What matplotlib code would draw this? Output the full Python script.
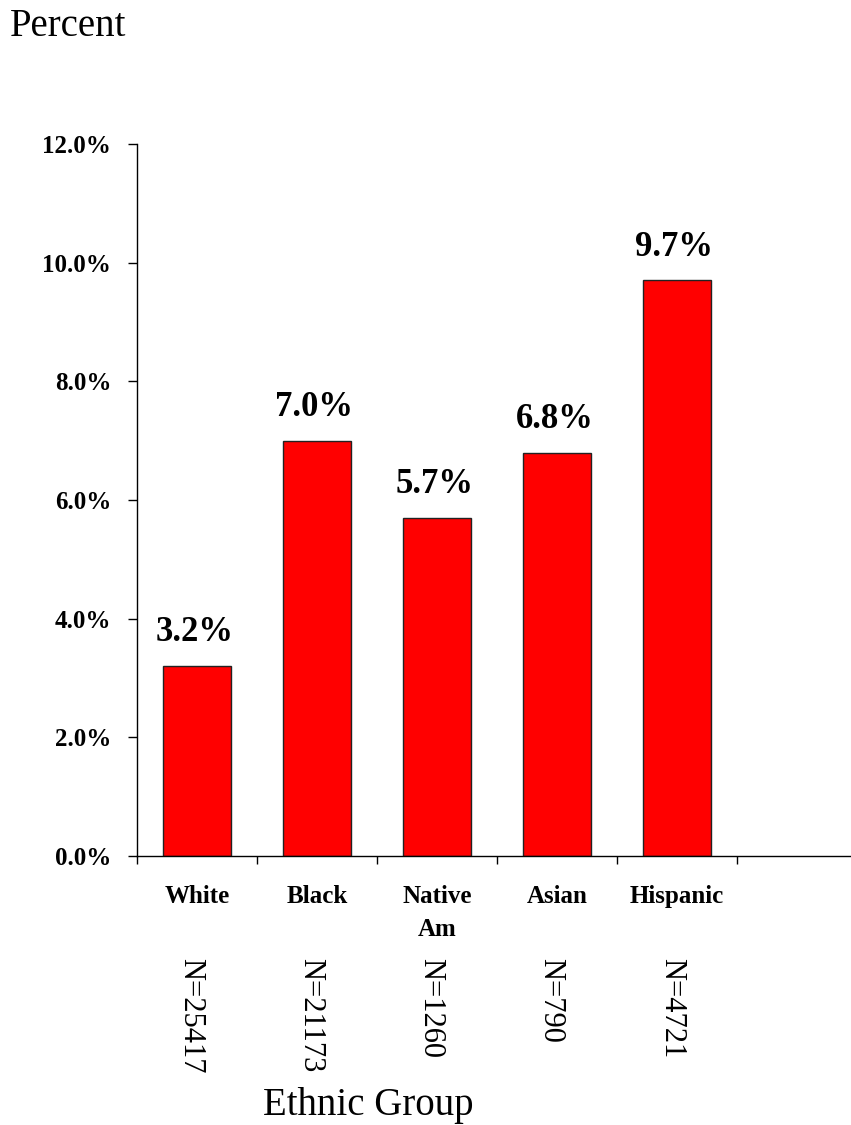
import matplotlib
matplotlib.use("Agg")
import matplotlib.pyplot as plt
import matplotlib.transforms as mtransforms

# Chart data
groups = ["White", "Black", "Native\nAm", "Asian", "Hispanic"]
percents = [3.2, 7.0, 5.7, 6.8, 9.7]
counts = ["N=25417", "N=21173", "N=1260", "N=790", "N=4721"]
y_ticks = [0, 2, 4, 6, 8, 10, 12]


def main():
    plt.rcParams["font.family"] = ["Liberation Serif", "DejaVu Serif"]

    fig = plt.figure(figsize=(8.51, 11.25), dpi=100)
    ax = fig.add_axes([137 / 851, 1 - 856 / 1125, (850 - 137) / 851, (856 - 144) / 1125])

    x = list(range(len(groups)))
    ax.bar(x, percents, width=0.57, color="#ff0000", edgecolor="#222222", linewidth=1.0, zorder=2)

    for xi, v in zip(x, percents):
        ax.annotate(f"{v:.1f}%", (xi, v), textcoords="offset points", xytext=(-2, 12),
                    ha="center", va="bottom", fontsize=25, fontweight="bold")

    ax.set_xlim(-0.5, 5.44)
    ax.set_ylim(0, 12)

    # y axis
    ax.set_yticks(y_ticks)
    ax.set_yticklabels([f"{t:.1f}%" for t in y_ticks], fontsize=18, fontweight="bold")
    ax.tick_params(axis="y", direction="out", length=6.5, width=1.0, pad=12)

    # x axis: boundary ticks, labels between them
    ax.set_xticks([i - 0.5 for i in range(len(groups) + 1)])
    ax.set_xticklabels([])
    ax.set_xticks(x, minor=True)
    ax.set_xticklabels(groups, minor=True, fontsize=18, fontweight="bold", va="top", linespacing=1.55)
    ax.tick_params(axis="x", which="major", direction="out", length=6, width=1.0)
    ax.tick_params(axis="x", which="minor", length=0, pad=21)

    for side in ["top", "right"]:
        ax.spines[side].set_visible(False)
    for side in ["left", "bottom"]:
        ax.spines[side].set_linewidth(1.0)

    # sample sizes, written vertically under each group
    trans = mtransforms.blended_transform_factory(ax.transData, fig.transFigure)
    for xi, n in zip(x, counts):
        ax.text(xi - 0.05, 1 - 958 / 1125, n, transform=trans, rotation=270,
                ha="center", va="top", fontsize=22)

    fig.text(368 / 851, 1 - 1105 / 1125, "Ethnic Group", ha="center", va="center", fontsize=28)
    fig.text(10 / 851, 1 - 27 / 1125, "Percent", ha="left", va="center", fontsize=28)

    fig.savefig("out.png", dpi=100)


if __name__ == "__main__":
    main()
